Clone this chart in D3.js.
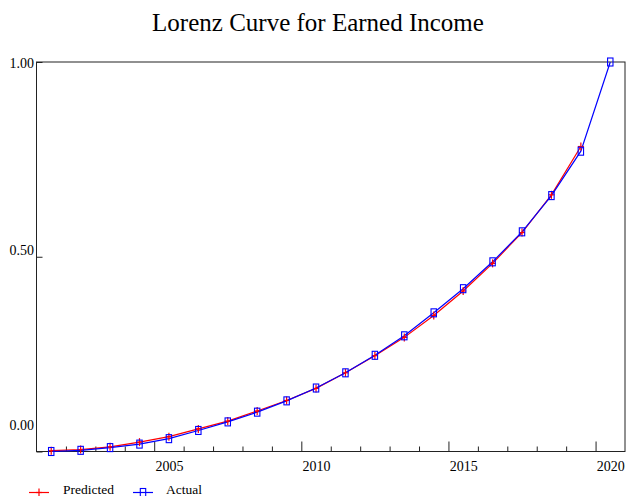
<!DOCTYPE html>
<html>
<head>
<meta charset="utf-8">
<script src="https://cdn.jsdelivr.net/npm/d3@7"></script>
<style>
  html, body { margin: 0; padding: 0; background: #fff; }
  svg { display: block; }
  text { font-family: "Liberation Serif", "Times New Roman", serif; fill: #000; }
</style>
</head>
<body>
<script>
// Lorenz curve shares, one point per year
const years = [2001, 2002, 2003, 2004, 2005, 2006, 2007, 2008, 2009, 2010,
               2011, 2012, 2013, 2014, 2015, 2016, 2017, 2018, 2019, 2020];
const actual = [0.000, 0.003, 0.010, 0.019, 0.033, 0.054, 0.076, 0.101, 0.130, 0.163,
                0.202, 0.247, 0.297, 0.356, 0.418, 0.487, 0.564, 0.657, 0.771, 1.000];
const predicted = [0.002, 0.005, 0.012, 0.024, 0.038, 0.058, 0.078, 0.104, 0.131, 0.162,
                   0.202, 0.246, 0.293, 0.349, 0.412, 0.483, 0.562, 0.659, 0.783];
const xLabels = [2005, 2010, 2015, 2020];
const yTicks = [0, 0.5, 1];
const yTickLabels = ["0.00", "0.50", "1.00"];
const seriesNames = ["Predicted", "Actual"];

const W = 626, H = 496;
const svg = d3.select("body").append("svg").attr("width", W).attr("height", H);

const x = d3.scaleLinear().domain([2000.5, 2020.5]).range([36.5, 625]);
const y = d3.scaleLinear().domain([0, 1]).range([451.5, 62]);

// title
svg.append("text")
  .attr("x", 318).attr("y", 31)
  .attr("text-anchor", "middle")
  .style("font-size", "25px")
  .text("Lorenz Curve for Earned Income");

// frame
svg.append("rect")
  .attr("x", x(2000.5)).attr("y", y(1))
  .attr("width", x(2020.5) - x(2000.5)).attr("height", y(0) - y(1))
  .attr("fill", "none").attr("stroke", "#222").attr("stroke-width", 1);

// x axis: year boundary ticks (minor every year, major every five) pointing inward
const bounds = d3.range(2001.5, 2020.5, 1);
const minorB = bounds.filter(b => (b + 0.5) % 5 !== 0);
const majorB = bounds.filter(b => (b + 0.5) % 5 === 0);
const gx = svg.append("g").attr("transform", `translate(0,${y(0)})`);
gx.append("g").call(d3.axisBottom(x).tickValues(minorB).tickSize(-5).tickFormat(""))
  .call(g => g.select(".domain").remove());
gx.append("g").call(d3.axisBottom(x).tickValues(majorB).tickSize(-10).tickFormat(""))
  .call(g => g.select(".domain").remove());
gx.append("g").call(d3.axisBottom(x).tickValues(xLabels).tickSize(0).tickFormat(d3.format("d")))
  .call(g => g.select(".domain").remove())
  .call(g => g.selectAll("text").attr("y", 19).attr("dy", 0)
    .style("font-size", "14px").style("font-family", "Liberation Serif, serif"));
gx.selectAll(".tick line").attr("stroke", "#222");

// y axis
const yLabelShift = { 0: -22.5, 0.5: -2.7, 1: 5 };
const gy = svg.append("g").attr("transform", `translate(${x(2000.5)},0)`)
  .call(d3.axisLeft(y).tickValues(yTicks).tickSize(-6).tickPadding(2.5)
    .tickFormat((d, i) => yTickLabels[i]))
  .call(g => g.select(".domain").remove());
gy.selectAll(".tick line").attr("stroke", "#222");
gy.selectAll(".tick text")
  .attr("dy", d => yLabelShift[d])
  .style("font-size", "14px").style("font-family", "Liberation Serif, serif");

const line = d3.line().x(d => x(d[0])).y(d => y(d[1]));
const predPts = predicted.map((v, i) => [years[i], v]);
const actPts = actual.map((v, i) => [years[i], v]);

svg.append("path").datum(predPts).attr("d", line)
  .attr("fill", "none").attr("stroke", "#ff0000").attr("stroke-width", 1.2);
svg.append("path").datum(actPts).attr("d", line)
  .attr("fill", "none").attr("stroke", "#0000ff").attr("stroke-width", 1.2);

function cross(g, cx, cy) {
  g.append("line").attr("x1", cx).attr("x2", cx).attr("y1", cy - 4).attr("y2", cy + 4)
    .attr("stroke", "#ff0000").attr("stroke-width", 1.2);
  g.append("line").attr("x1", cx - 3).attr("x2", cx + 3).attr("y1", cy).attr("y2", cy)
    .attr("stroke", "#ff0000").attr("stroke-width", 1.2);
}
function box(g, cx, cy) {
  g.append("rect").attr("x", cx - 2.7).attr("y", cy - 4).attr("width", 5.4).attr("height", 8)
    .attr("fill", "none").attr("stroke", "#0000ff").attr("stroke-width", 1.1);
}

const gm = svg.append("g");
predPts.forEach(p => cross(gm, x(p[0]), y(p[1])));
actPts.forEach(p => box(gm, x(p[0]), y(p[1])));

// legend
const lg = svg.append("g");
lg.append("line").attr("x1", 29).attr("x2", 49).attr("y1", 492.5).attr("y2", 492.5)
  .attr("stroke", "#ff0000").attr("stroke-width", 1.2);
cross(lg, 39, 492.5);
lg.append("text").attr("x", 63).attr("y", 494).style("font-size", "13.5px").text(seriesNames[0]);
lg.append("line").attr("x1", 133).attr("x2", 153).attr("y1", 492.5).attr("y2", 492.5)
  .attr("stroke", "#0000ff").attr("stroke-width", 1.2);
box(lg, 143, 492.5);
lg.append("text").attr("x", 166).attr("y", 494).style("font-size", "13.5px").text(seriesNames[1]);
</script>
</body>
</html>
